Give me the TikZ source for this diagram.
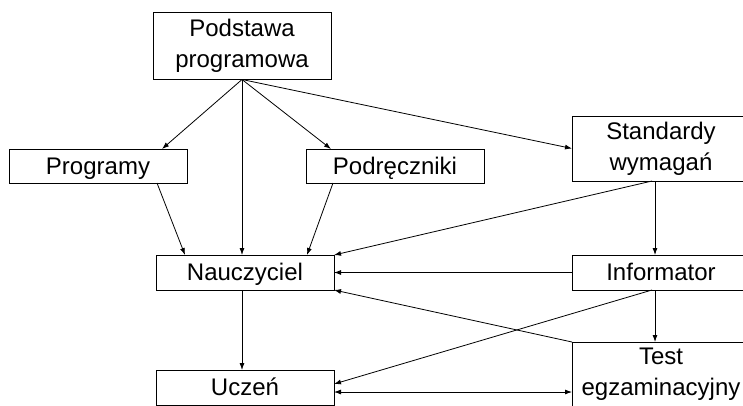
\documentclass[tikz,border=0pt]{standalone}
\usepackage{fontspec}
\setmainfont{Liberation Sans}
\usetikzlibrary{positioning,arrows.meta}

\begin{document}
\begin{tikzpicture}[
    x=1pt, y=-1pt,
    >={Latex[length=7pt,width=5pt]},
    box/.style ={
        draw,
        line width=0.8pt,
        minimum width=178pt,
        minimum height=35pt,
        inner sep=0pt,
        outer sep=0pt,
        align=center,
        font=\fontsize{24}{31}\selectfont
    },
    oneline/.style ={
        text height=17pt,
        text depth=1pt
    },
    tall/.style ={
        minimum height=65pt
    },
    link/.style ={
        ->,
        line width=0.8pt
    }
    ]
    \useasboundingbox (0,0) rectangle (743,405);

    \node[box, tall, minimum height=67pt] (podstawa) at (242,46) {Podstawa\\programowa};
    \node[box, oneline, minimum height=34pt] (programy) at (98,166) {Programy};
    \node[box, oneline, minimum height=34pt] (podreczniki) [right=119pt of programy] {Podręczniki};
    \node[box, tall] (standardy) at (661,148.5) {Standardy\\wymagań};
    \node[box, oneline] (nauczyciel) at (245,272.5) {Nauczyciel};
    \node[box, oneline] (informator) [right=238pt of nauczyciel] {Informator};
    \node[box, oneline] (uczen) [below=80pt of nauczyciel] {Uczeń};
    \node[box, tall] (test) [below=52pt of informator] {Test\\egzaminacyjny};

    % from the top box
    \draw[link] (podstawa.south) -- ([xshift=64pt]programy.north);
    \draw[link] (podstawa.south) -- (podstawa.south |- nauczyciel.north);
    \draw[link] (podstawa.south) -- ([xshift=-64pt]podreczniki.north);
    \draw[link] (podstawa.south) -- (standardy.west);

    % into the teacher
    \draw[link] ([xshift=59pt]programy.south) -- ([xshift=-60pt]nauczyciel.north);
    \draw[link] ([xshift=-62pt]podreczniki.south) -- ([xshift=62pt]nauczyciel.north);
    \draw[link] ([xshift=-9pt]standardy.south) -- (nauczyciel.north east);
    \draw[link] (informator.west) -- (nauczyciel.east);
    \draw[link] (test.north west) -- (nauczyciel.south east);

    % right column
    \draw[link] ([xshift=-6pt]standardy.south) -- ([xshift=-6pt]informator.north);
    \draw[link] ([xshift=-6pt]informator.south) -- ([xshift=-6pt]test.north);
    \draw[link] ([xshift=-9pt]informator.south) -- ([yshift=3.5pt]uczen.east);

    % student
    \draw[link] ([xshift=-3pt]nauczyciel.south) -- ([xshift=-3pt]uczen.north);
    \draw[link, <->] ([yshift=-4.5pt]uczen.east) -- ([yshift=-4.5pt]uczen.east -| test.west);
\end{tikzpicture}
\end{document}
